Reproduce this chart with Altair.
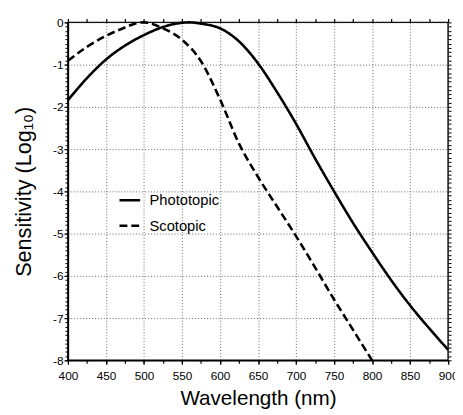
import altair as alt
import pandas as pd

# Photopic curve (log10 sensitivity)
photopic_wl = [400, 425, 450, 475, 500, 525, 550, 560, 575, 600, 625, 650, 675,
               700, 725, 750, 775, 800, 825, 850, 875, 900]
photopic_val = [-1.84, -1.32, -0.88, -0.55, -0.30, -0.11, -0.01, 0.0, -0.03, -0.14,
                -0.45, -0.97, -1.65, -2.40, -3.22, -4.00, -4.75, -5.44, -6.10,
                -6.70, -7.24, -7.75]

# Scotopic curve
scotopic_wl = [400, 425, 450, 475, 490, 500, 525, 550, 575, 600, 625, 650, 675,
               700, 725, 750, 775, 800]
scotopic_val = [-0.91, -0.58, -0.32, -0.12, -0.02, 0.0, -0.14, -0.41, -0.92, -1.82,
                -2.87, -3.66, -4.36, -5.06, -5.80, -6.56, -7.28, -8.0]

series_names = ["Phototopic", "Scotopic"]

x_major = [400, 450, 500, 550, 600, 650, 700, 750, 800, 850, 900]
x_minor = [400, 425, 450, 475, 500, 525, 550, 575, 600, 625, 650, 675, 700,
           725, 750, 775, 800, 825, 850, 875, 900]
y_major = [-8, -7, -6, -5, -4, -3, -2, -1, 0]
y_minor = [round(-8 + i * 0.1, 1) for i in range(81)]

df = pd.concat([
    pd.DataFrame({"wavelength": photopic_wl, "sensitivity": photopic_val,
                  "series": series_names[0]}),
    pd.DataFrame({"wavelength": scotopic_wl, "sensitivity": scotopic_val,
                  "series": series_names[1]}),
], ignore_index=True)

xscale = alt.Scale(domain=[400, 900], nice=False, zero=False)
yscale = alt.Scale(domain=[-8, 0], nice=False, zero=False)

base = alt.Chart(df)

lines = base.mark_line(color="black", strokeWidth=2.6, interpolate="monotone").encode(
    x=alt.X("wavelength:Q", scale=xscale,
            axis=alt.Axis(orient="bottom", values=x_major, title="Wavelength (nm)",
                          grid=True, gridDash=[1, 2], gridColor="#666666", gridWidth=1,
                          tickSize=4, tickWidth=1.2, labelPadding=7, titlePadding=6,
                          labelFlush=False, labelOverlap=False, titleFontSize=21,
                          domainWidth=1.5)),
    y=alt.Y("sensitivity:Q", scale=yscale,
            axis=alt.Axis(orient="left", values=y_major, title="Sensitivity (Log₁₀)",
                          grid=True, gridDash=[1, 2], gridColor="#666666", gridWidth=1,
                          tickSize=4, tickWidth=1.2, labelPadding=1, titlePadding=17,
                          labelFlush=False, labelOverlap=False, titleFontSize=22,
                          domainWidth=1.5,
                          labelExpr="'' + datum.value")),
    strokeDash=alt.StrokeDash(
        "series:N",
        scale=alt.Scale(domain=series_names, range=[[1, 0], [8, 4]]),
        legend=alt.Legend(title=None, orient="none", legendX=51, legendY=169,
                          symbolType="stroke", symbolSize=441, symbolStrokeWidth=2.5,
                          symbolStrokeColor="black", labelFontSize=15,
                          labelFont="Liberation Sans", labelColor="black",
                          labelOffset=8, rowPadding=6, padding=0)),
)

ticks_tr = base.mark_line(opacity=0).encode(
    x=alt.X("wavelength:Q", scale=xscale,
            axis=alt.Axis(orient="top", values=x_minor, labels=False, grid=False,
                          title="", tickSize=4, tickWidth=1.2, domain=False)),
    y=alt.Y("sensitivity:Q", scale=yscale,
            axis=alt.Axis(orient="right", values=y_minor, labels=False, grid=False,
                          title="", tickSize=3, tickWidth=1, domain=False)),
    detail="series:N",
)

ticks_bl = base.mark_line(opacity=0).encode(
    x=alt.X("wavelength:Q", scale=xscale,
            axis=alt.Axis(orient="bottom", values=x_minor, labels=False, grid=False,
                          title="", tickSize=3, tickWidth=1.2, domain=False)),
    y=alt.Y("sensitivity:Q", scale=yscale,
            axis=alt.Axis(orient="left", values=y_minor, labels=False, grid=False,
                          title="", tickSize=3, tickWidth=1, domain=False)),
    detail="series:N",
)

chart = alt.layer(lines, ticks_tr, ticks_bl).resolve_scale(
    x="independent", y="independent"
).properties(
    width=387, height=344,
    autosize=alt.AutoSizeParams(type="none"),
    padding={"left": 61, "top": 11, "right": 7, "bottom": 52},
).configure_view(
    stroke="black", strokeWidth=1.5
).configure_axis(
    labelFont="Liberation Sans", titleFont="Liberation Sans",
    labelFontSize=12, titleFontSize=20, labelColor="black", titleColor="black",
    tickColor="black", domainColor="black", titleFontWeight="normal",
)

chart.save("out.html", embed_options={"renderer": "svg", "actions": False})
